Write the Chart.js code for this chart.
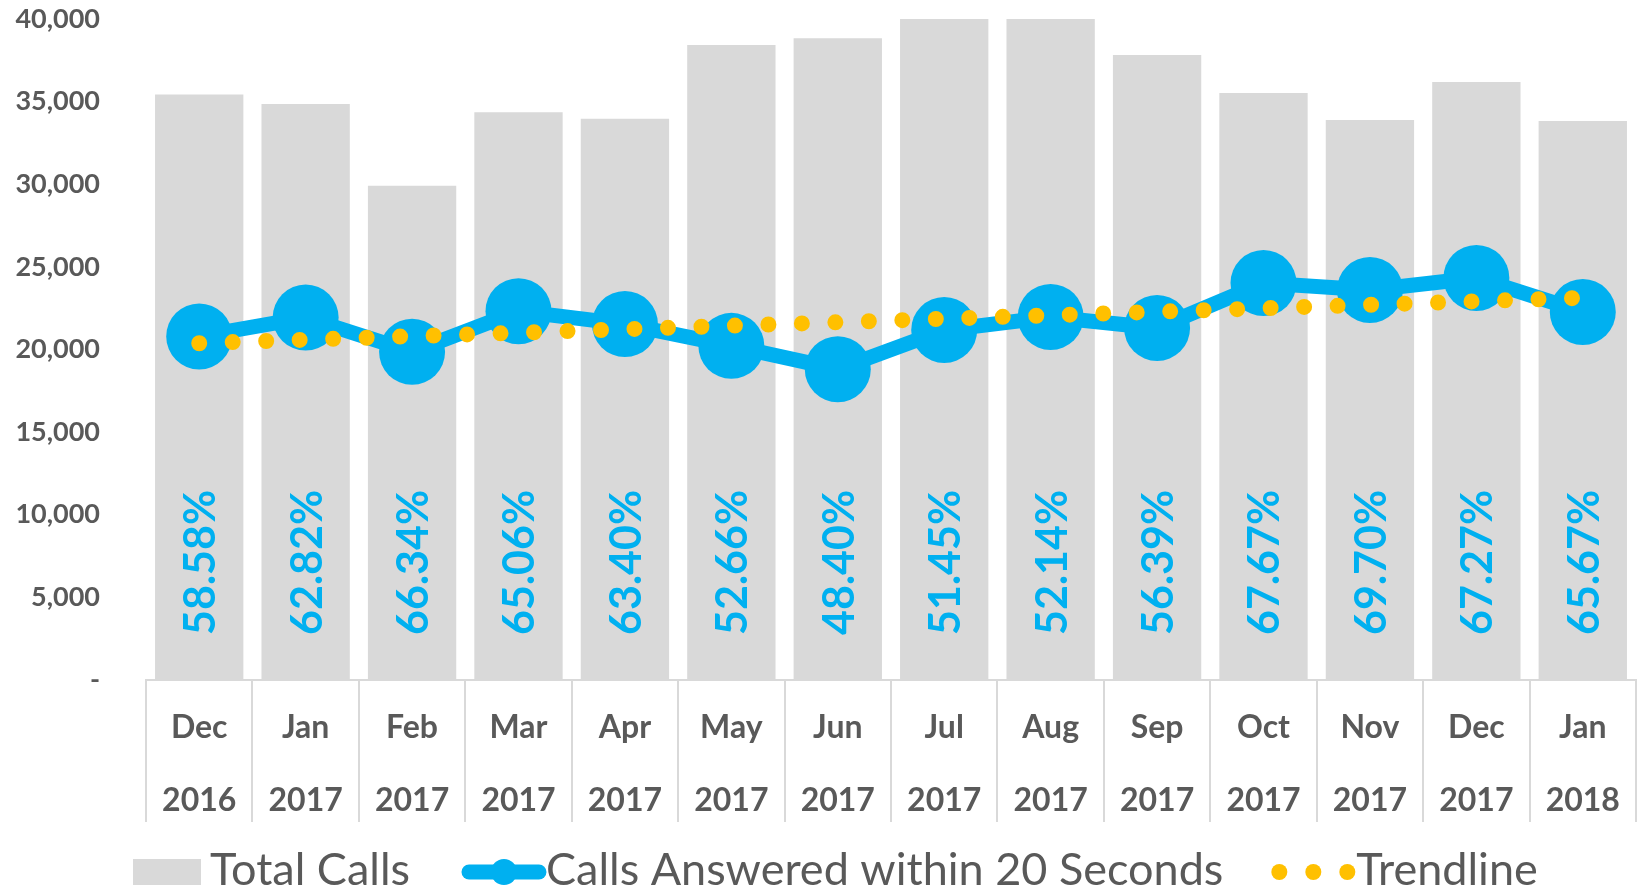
<!DOCTYPE html>
<html>
<head>
<meta charset="utf-8">
<script src="https://cdn.jsdelivr.net/npm/chart.js@4.4.1/dist/chart.umd.min.js"></script>
<style>
  html, body { margin: 0; padding: 0; background: #fff; }
</style>
</head>
<body>
<canvas id="callsChart" width="1645" height="890"></canvas>
<script>
// Chart data
const months = ['Dec', 'Jan', 'Feb', 'Mar', 'Apr', 'May', 'Jun', 'Jul', 'Aug', 'Sep', 'Oct', 'Nov', 'Dec', 'Jan'];
const years = ['2016', '2017', '2017', '2017', '2017', '2017', '2017', '2017', '2017', '2017', '2017', '2017', '2017', '2018'];
const totalCalls = [35430, 34860, 29910, 34350, 33970, 38420, 38830, 41170, 42140, 37820, 35520, 33890, 36190, 33830];
const answered20s = [20790, 21930, 19860, 22320, 21540, 20220, 18810, 21180, 21970, 21300, 24020, 23600, 24330, 22270];
const answeredPct = ['58.58%', '62.82%', '66.34%', '65.06%', '63.40%', '52.66%', '48.40%', '51.45%', '52.14%', '56.39%', '67.67%', '69.70%', '67.27%', '65.67%'];
const trendStart = 20380;
const trendEnd = 23130;
const yTicks = { min: 0, max: 40000, step: 5000 };

const GREY_BAR = '#D9D9D9';
const BLUE = '#00B0F0';
const GOLD = '#FFC000';
const TEXT = '#595959';

const labels = months.map((m, i) => [m, years[i]]);
const trendData = months.map((_, i) => (i === 0 ? trendStart : (i === months.length - 1 ? trendEnd : null)));

// rotated percentage labels sitting on the bar base
const pctLabels = {
  id: 'pctLabels',
  afterDatasetsDraw(chart) {
    const meta = chart.getDatasetMeta(0);
    const ctx = chart.ctx;
    ctx.save();
    ctx.font = 'bold 43px Lato';
    ctx.fillStyle = BLUE;
    ctx.textAlign = 'left';
    ctx.textBaseline = 'middle';
    meta.data.forEach((bar, i) => {
      ctx.save();
      ctx.translate(bar.x + 2, bar.base - 45);
      ctx.rotate(-Math.PI / 2);
      ctx.fillText(answeredPct[i], 0, 0);
      ctx.restore();
    });
    ctx.restore();
  }
};

// legend row along the bottom
const legendRow = {
  id: 'legendRow',
  afterDraw(chart) {
    const ctx = chart.ctx;
    const sets = chart.data.datasets;
    const base = 885;
    const mid = 872;
    let x = 133;
    ctx.save();
    ctx.font = '45px Lato';
    ctx.textBaseline = 'alphabetic';
    ctx.textAlign = 'left';

    ctx.fillStyle = GREY_BAR;
    ctx.fillRect(x, mid - 13, 68, 26);
    x += 68 + 9;
    ctx.fillStyle = TEXT;
    ctx.fillText(sets[0].label, x, base);
    x += ctx.measureText(sets[0].label).width + 52;

    ctx.strokeStyle = BLUE;
    ctx.lineWidth = 15;
    ctx.lineCap = 'round';
    ctx.beginPath();
    ctx.moveTo(x + 7, mid);
    ctx.lineTo(x + 77, mid);
    ctx.stroke();
    ctx.fillStyle = BLUE;
    ctx.beginPath();
    ctx.arc(x + 42, mid, 13, 0, Math.PI * 2);
    ctx.fill();
    x += 84;
    ctx.fillStyle = TEXT;
    ctx.fillText(sets[1].label, x, base);
    x += ctx.measureText(sets[1].label).width + 48;

    ctx.fillStyle = GOLD;
    [8, 42, 76].forEach((dx) => {
      ctx.beginPath();
      ctx.arc(x + dx, mid, 8, 0, Math.PI * 2);
      ctx.fill();
    });
    x += 85;
    ctx.fillStyle = TEXT;
    ctx.fillText(sets[2].label, x, base);
    ctx.restore();
  }
};

function draw() {
  const ctx = document.getElementById('callsChart').getContext('2d');
  new Chart(ctx, {
    type: 'bar',
    data: {
      labels: labels,
      datasets: [
        {
          type: 'bar',
          label: 'Total Calls',
          data: totalCalls,
          backgroundColor: GREY_BAR,
          borderWidth: 0,
          barPercentage: 0.83,
          categoryPercentage: 1.0,
          order: 3,
        },
        {
          type: 'line',
          label: 'Calls Answered within 20 Seconds',
          data: answered20s,
          borderColor: BLUE,
          backgroundColor: BLUE,
          borderWidth: 15,
          tension: 0,
          pointRadius: 33,
          pointBorderWidth: 0,
          pointBackgroundColor: BLUE,
          clip: false,
          order: 2,
        },
        {
          type: 'line',
          label: 'Trendline',
          data: trendData,
          spanGaps: true,
          borderColor: GOLD,
          borderWidth: 16,
          borderDash: [0, 33.5],
          borderCapStyle: 'round',
          pointRadius: 0,
          tension: 0,
          clip: false,
          order: 1,
        }
      ]
    },
    options: {
      responsive: false,
      animation: false,
      events: [],
      layout: { autoPadding: false, padding: { left: 0, right: 9, top: 19, bottom: 68 } },
      plugins: { legend: { display: false }, tooltip: { enabled: false } },
      scales: {
        x: {
          offset: true,
          grid: { display: true, drawOnChartArea: false, drawTicks: true, tickLength: 142, color: GREY_BAR, lineWidth: 2, offset: true },
          border: { display: true, color: GREY_BAR, width: 2 },
          ticks: {
            color: TEXT,
            font: { family: 'Lato', size: 32, weight: 'bold', lineHeight: 2.28 },
            padding: -131,
            autoSkip: false,
            maxRotation: 0,
          },
          afterFit(scale) { scale.height = 142; }
        },
        y: {
          min: yTicks.min,
          max: yTicks.max,
          grid: { display: false },
          border: { display: false },
          ticks: {
            stepSize: yTicks.step,
            color: TEXT,
            font: { family: 'Lato', size: 27, weight: 'bold' },
            padding: 38,
            callback: (v) => (v === 0 ? '-' : v.toLocaleString('en-US')),
          },
          afterFit(scale) {
            scale.width = 146;
            scale.paddingTop = 0;
            scale.paddingBottom = 0;
          }
        }
      }
    },
    plugins: [pctLabels, legendRow]
  });
}

Promise.all([
  document.fonts.load('bold 32px Lato'),
  document.fonts.load('45px Lato')
]).then(draw, draw);
</script>
</body>
</html>
